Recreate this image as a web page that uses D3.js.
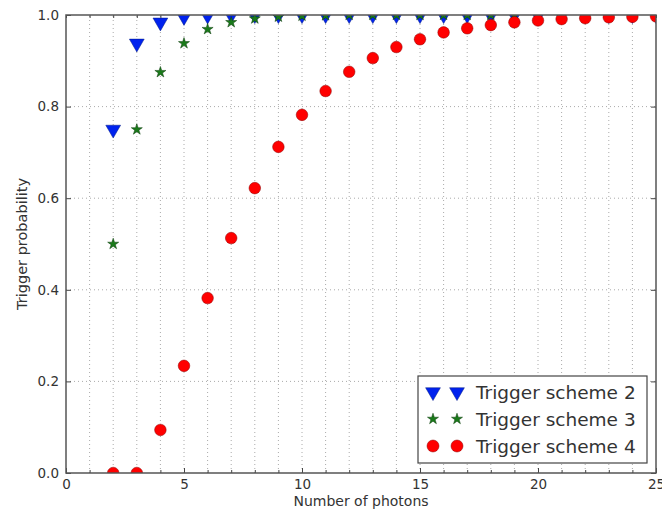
<!DOCTYPE html>
<html>
<head>
<meta charset="utf-8">
<script src="https://cdn.jsdelivr.net/npm/d3@7"></script>
<style>
  body { margin: 0; background: #fff; }
  svg text { font-family: "DejaVu Sans", sans-serif; fill: #333; }
</style>
</head>
<body>
<div id="chart"></div>
<script>
// photon counts and trigger probabilities
const photons = [2, 3, 4, 5, 6, 7, 8, 9, 10, 11, 12, 13, 14, 15, 16, 17, 18, 19, 20, 21, 22, 23, 24, 25];
const scheme2 = [0.75, 0.938, 0.984, 0.996, 0.999, 1.0, 1.0, 1.0, 1.0, 1.0, 1.0, 1.0, 1.0, 1.0, 1.0, 1.0, 1.0, 1.0, 1.0, 1.0, 1.0, 1.0, 1.0, 1.0];
const scheme3 = [0.5, 0.75, 0.875, 0.938, 0.969, 0.984, 0.992, 0.996, 0.998, 0.999, 1.0, 1.0, 1.0, 1.0, 1.0, 1.0, 1.0, 1.0, 1.0, 1.0, 1.0, 1.0, 1.0, 1.0];
const scheme4 = [0.0, 0.0, 0.094, 0.234, 0.382, 0.513, 0.622, 0.712, 0.782, 0.834, 0.876, 0.906, 0.930, 0.947, 0.962, 0.971, 0.978, 0.984, 0.988, 0.991, 0.993, 0.995, 0.996, 0.997];
const seriesNames = ['Trigger scheme 2', 'Trigger scheme 3', 'Trigger scheme 4'];
const xTicks = [0, 5, 10, 15, 20, 25];
const yTicks = [0.0, 0.2, 0.4, 0.6, 0.8, 1.0];

const W = 662, H = 511;
const margin = { left: 66, right: 6, top: 15, bottom: 38 };

const svg = d3.select('#chart').append('svg')
    .attr('width', W).attr('height', H);

const x = d3.scaleLinear().domain([0, 25]).range([margin.left, W - margin.right]);
const y = d3.scaleLinear().domain([0, 1]).range([H - margin.bottom, margin.top]);

const plot = svg.append('g');

// dotted grid: every integer on x, every 0.2 on y
const gridX = d3.range(1, 25);
plot.append('g').selectAll('line')
    .data(gridX).join('line')
    .attr('x1', d => x(d)).attr('x2', d => x(d))
    .attr('y1', y(0)).attr('y2', y(1))
    .attr('stroke', '#aaa').attr('stroke-width', 1)
    .attr('stroke-dasharray', '1,3');
plot.append('g').selectAll('line')
    .data(yTicks.slice(1, -1)).join('line')
    .attr('x1', x(0)).attr('x2', x(25))
    .attr('y1', d => y(d)).attr('y2', d => y(d))
    .attr('stroke', '#aaa').attr('stroke-width', 1)
    .attr('stroke-dasharray', '1,3');

// axes with inward ticks
const xAxis = d3.axisBottom(x).tickValues(xTicks).tickSize(-5).tickPadding(6).tickFormat(d3.format('d'));
const xMinor = d3.axisBottom(x).tickValues(d3.range(0, 26)).tickSize(-3).tickFormat('');
const yAxis = d3.axisLeft(y).tickValues(yTicks).tickSize(-5).tickPadding(7).tickFormat(d3.format('.1f'));

const gx = svg.append('g').attr('transform', `translate(0,${y(0)})`).call(xAxis);
svg.append('g').attr('transform', `translate(0,${y(0)})`).call(xMinor);
svg.append('g').attr('transform', `translate(0,${y(1)})`).call(d3.axisTop(x).tickValues(d3.range(0, 26)).tickSize(-3).tickFormat(''));
const gy = svg.append('g').attr('transform', `translate(${x(0)},0)`).call(yAxis);
svg.append('g').attr('transform', `translate(${x(25)},0)`).call(d3.axisRight(y).tickValues(yTicks).tickSize(-5).tickFormat(''));

svg.selectAll('.domain').remove();
svg.selectAll('.tick line').attr('stroke', '#444');
gx.selectAll('text').style('font-size', '13.5px').attr('fill', '#333');
gy.selectAll('text').style('font-size', '13.5px').attr('fill', '#333');

// markers, clipped to the axes area like the original
const triangle = d3.symbol().type(d3.symbolTriangle).size(95);
const star = d3.symbol().type(d3.symbolStar).size(38);

svg.append('clipPath').attr('id', 'plotclip').append('rect')
    .attr('x', x(0)).attr('y', y(1))
    .attr('width', x(25) - x(0)).attr('height', y(0) - y(1));

const marks = svg.append('g').attr('clip-path', 'url(#plotclip)');

marks.append('g').selectAll('path')
    .data(photons.map((p, i) => [p, scheme2[i]])).join('path')
    .attr('d', triangle)
    .attr('transform', d => `translate(${x(d[0])},${y(d[1])}) rotate(180)`)
    .attr('fill', '#0022ee').attr('stroke', '#001a80').attr('stroke-width', 0.5);

marks.append('g').selectAll('path')
    .data(photons.map((p, i) => [p, scheme3[i]])).join('path')
    .attr('d', star)
    .attr('transform', d => `translate(${x(d[0])},${y(d[1])})`)
    .attr('fill', '#1a7a1a').attr('stroke', '#0a3a0a').attr('stroke-width', 0.5);

marks.append('g').selectAll('circle')
    .data(photons.map((p, i) => [p, scheme4[i]])).join('circle')
    .attr('cx', d => x(d[0])).attr('cy', d => y(d[1]))
    .attr('r', 5.8)
    .attr('fill', '#ff0000').attr('stroke', '#8a0000').attr('stroke-width', 0.5);

// frame
svg.append('rect')
    .attr('x', x(0)).attr('y', y(1))
    .attr('width', x(25) - x(0)).attr('height', y(0) - y(1))
    .attr('fill', 'none').attr('stroke', '#555').attr('stroke-width', 1.5);

// axis labels
svg.append('text')
    .attr('x', (x(0) + x(25)) / 2).attr('y', 506)
    .attr('text-anchor', 'middle').style('font-size', '14px')
    .text('Number of photons');
svg.append('text')
    .attr('transform', `translate(27,${(y(0) + y(1)) / 2}) rotate(-90)`)
    .attr('text-anchor', 'middle').style('font-size', '14.5px')
    .text('Trigger probability');

// legend
const lg = svg.append('g').attr('transform', 'translate(418,376)');
lg.append('rect')
    .attr('width', 229).attr('height', 87)
    .attr('fill', '#fff').attr('stroke', '#444').attr('stroke-width', 1.2);

const legendRows = [
    { name: seriesNames[0], kind: 'tri' },
    { name: seriesNames[1], kind: 'star' },
    { name: seriesNames[2], kind: 'circle' }
];
legendRows.forEach((r, i) => {
    const ry = 16 + i * 27;
    [15, 39].forEach(mx => {
        if (r.kind === 'tri') {
            lg.append('path').attr('d', triangle)
                .attr('transform', `translate(${mx},${ry}) rotate(180)`)
                .attr('fill', '#0022ee').attr('stroke', '#001a80').attr('stroke-width', 0.5);
        } else if (r.kind === 'star') {
            lg.append('path').attr('d', star)
                .attr('transform', `translate(${mx},${ry})`)
                .attr('fill', '#1a7a1a').attr('stroke', '#0a3a0a').attr('stroke-width', 0.5);
        } else {
            lg.append('circle').attr('cx', mx).attr('cy', ry).attr('r', 6)
                .attr('fill', '#ff0000').attr('stroke', '#8a0000').attr('stroke-width', 0.5);
        }
    });
    lg.append('text')
        .attr('x', 58).attr('y', ry + 6.5)
        .style('font-size', '18.5px')
        .text(r.name);
});
</script>
</body>
</html>
